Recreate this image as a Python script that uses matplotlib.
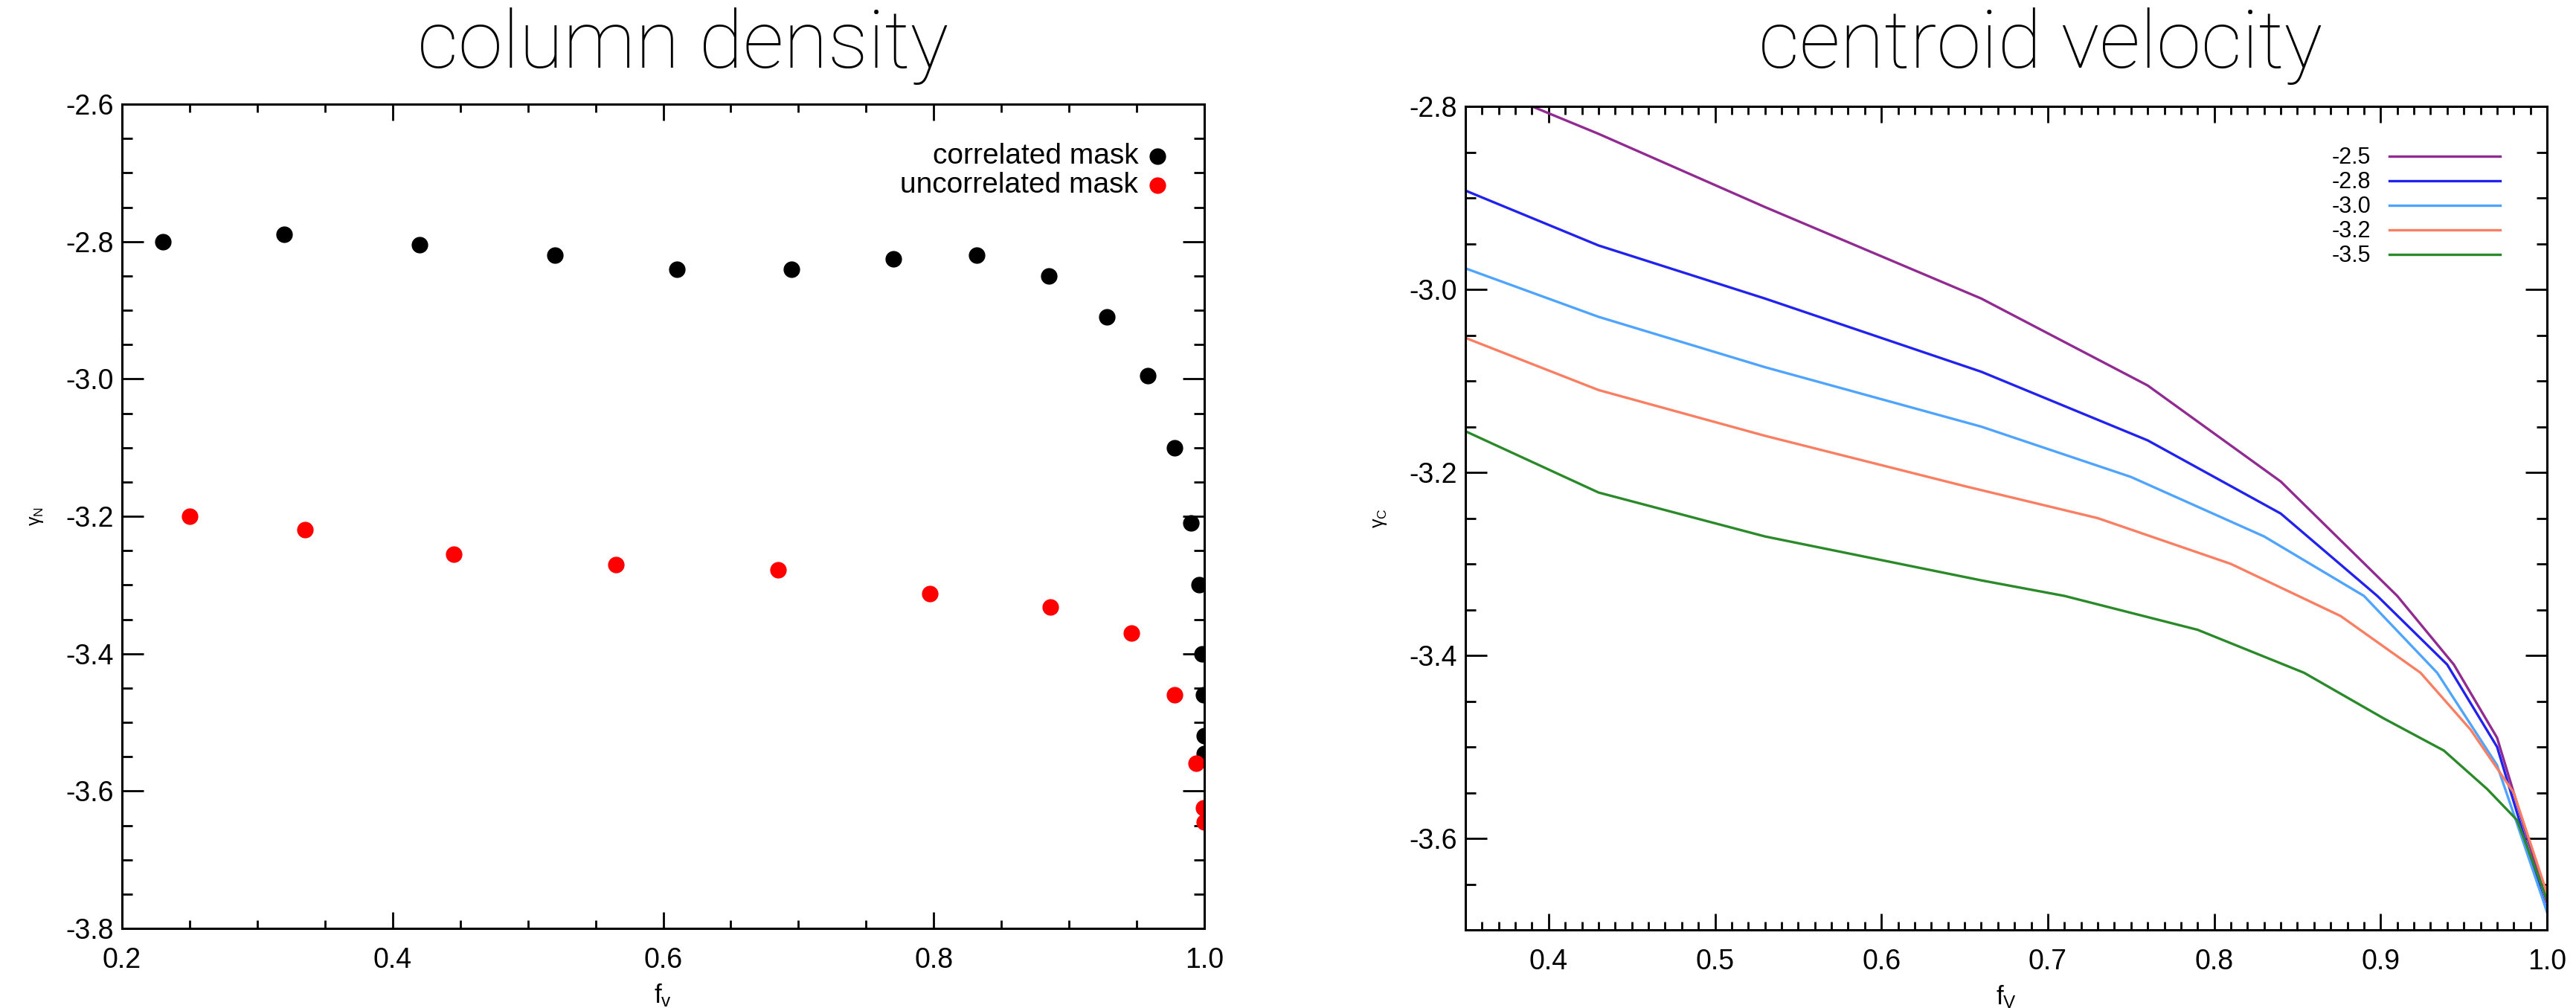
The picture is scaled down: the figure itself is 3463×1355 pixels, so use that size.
import matplotlib.pyplot as plt
from matplotlib.ticker import MultipleLocator, FormatStrFormatter

plt.rcParams['axes.unicode_minus'] = False
plt.rcParams['font.family'] = ['Liberation Sans', 'DejaVu Sans']
plt.rcParams['mathtext.fontset'] = 'custom'
plt.rcParams['mathtext.rm'] = 'Liberation Sans'
plt.rcParams['mathtext.it'] = 'Liberation Sans'

# left panel: column density
fv_corr = [0.23, 0.32, 0.42, 0.52, 0.61, 0.695, 0.77, 0.832, 0.885, 0.928,
           0.958, 0.978, 0.99, 0.996, 0.9985, 0.9995, 1.0, 1.0]
gN_corr = [-2.80, -2.79, -2.805, -2.82, -2.84, -2.84, -2.825, -2.82, -2.85, -2.91,
           -2.995, -3.10, -3.21, -3.30, -3.40, -3.46, -3.52, -3.545]
fv_unc = [0.25, 0.335, 0.445, 0.565, 0.685, 0.797, 0.886, 0.946, 0.978, 0.994, 0.9995, 1.0]
gN_unc = [-3.20, -3.22, -3.255, -3.27, -3.278, -3.313, -3.332, -3.37, -3.46, -3.56, -3.625, -3.645]

# right panel: centroid velocity, one curve per spectral index
slopes = ['-2.5', '-2.8', '-3.0', '-3.2', '-3.5']
colors = ['#912a91', '#2222ee', '#4ea4ff', '#fa7f62', '#2a8a2a']
fv_c = [
    [0.35, 0.43, 0.53, 0.66, 0.76, 0.84, 0.91, 0.944, 0.97, 1.0],
    [0.35, 0.43, 0.53, 0.66, 0.76, 0.84, 0.898, 0.94, 0.97, 1.0],
    [0.35, 0.43, 0.53, 0.66, 0.75, 0.83, 0.89, 0.934, 0.97, 1.0],
    [0.35, 0.43, 0.53, 0.65, 0.73, 0.81, 0.876, 0.924, 0.954, 0.98, 1.0],
    [0.35, 0.43, 0.53, 0.66, 0.71, 0.79, 0.854, 0.902, 0.938, 0.964, 0.982, 1.0],
]
gC = [
    [-2.77, -2.83, -2.91, -3.01, -3.105, -3.21, -3.335, -3.41, -3.49, -3.67],
    [-2.892, -2.952, -3.01, -3.09, -3.165, -3.245, -3.335, -3.41, -3.50, -3.68],
    [-2.977, -3.03, -3.085, -3.15, -3.205, -3.27, -3.335, -3.419, -3.52, -3.68],
    [-3.053, -3.11, -3.16, -3.215, -3.25, -3.30, -3.357, -3.419, -3.481, -3.55, -3.66],
    [-3.155, -3.222, -3.27, -3.318, -3.335, -3.372, -3.419, -3.469, -3.504, -3.546, -3.58, -3.667],
]

fig = plt.figure(figsize=(34.63, 13.55), dpi=100)
W, H = 3463, 1355
ax1 = fig.add_axes([164 / W, 1 - 1248 / H, (1619 - 164) / W, (1248 - 140) / H])
ax2 = fig.add_axes([1970 / W, 1 - 1250 / H, (3424 - 1970) / W, (1250 - 143) / H])


def style(ax):
    for s in ax.spines.values():
        s.set_linewidth(2.2)
    ax.tick_params(which='both', direction='in', top=True, right=True,
                   width=2, labelsize=27, colors='black')
    ax.tick_params(axis='x', which='major', length=16, pad=18)
    ax.tick_params(axis='x', which='minor', length=8)
    ax.tick_params(axis='y', which='major', length=21, pad=8)
    ax.tick_params(axis='y', which='minor', length=10)
    ax.yaxis.set_major_formatter(FormatStrFormatter('%.1f'))
    ax.xaxis.set_major_formatter(FormatStrFormatter('%.1f'))


ax1.plot(fv_corr, gN_corr, 'o', color='black', markersize=15, linestyle='none')
ax1.plot(fv_unc, gN_unc, 'o', color='red', markersize=15, linestyle='none')
ax1.set_xlim(0.2, 1.0)
ax1.set_ylim(-3.8, -2.6)
ax1.xaxis.set_major_locator(MultipleLocator(0.2))
ax1.xaxis.set_minor_locator(MultipleLocator(0.05))
ax1.yaxis.set_major_locator(MultipleLocator(0.2))
ax1.yaxis.set_minor_locator(MultipleLocator(0.05))
style(ax1)
ax1.set_xlabel(r'f$_\mathregular{v}$', fontsize=25, labelpad=8)
ax1.set_ylabel(r'$\gamma_\mathregular{N}$', fontsize=18, labelpad=20)

# legend with right-aligned labels
for i, (lab, c) in enumerate([('correlated mask', 'black'), ('uncorrelated mask', 'red')]):
    yy = 0.937 - i * 0.035
    ax1.text(0.939, yy, lab, transform=ax1.transAxes, ha='right', va='center', fontsize=28)
    ax1.plot([0.957], [yy], 'o', color=c, markersize=15, transform=ax1.transAxes, clip_on=False)

for f, g, c, lab in zip(fv_c, gC, colors, slopes):
    ax2.plot(f, g, color=c, linewidth=2.4, label=lab)
ax2.set_xlim(0.35, 1.0)
ax2.set_ylim(-3.7, -2.8)
ax2.xaxis.set_major_locator(MultipleLocator(0.1))
ax2.xaxis.set_minor_locator(MultipleLocator(0.01))
ax2.yaxis.set_major_locator(MultipleLocator(0.2))
ax2.yaxis.set_minor_locator(MultipleLocator(0.05))
style(ax2)
ax2.set_xlabel(r'f$_\mathregular{V}$', fontsize=25, labelpad=8)
ax2.set_ylabel(r'$\gamma_\mathregular{C}$', fontsize=18, labelpad=20)
ax2.legend(loc='upper right', bbox_to_anchor=(0.957, 0.951), frameon=False,
           markerfirst=False, fontsize=22, handlelength=4.9, handletextpad=0.8,
           labelspacing=0.1, borderpad=0, borderaxespad=0)

fig.text(0.265, 0.954, 'column density', ha='center', va='center', fontsize=78,
         family=['Roboto', 'DejaVu Sans'], fontweight='light')
fig.text(0.792, 0.954, 'centroid velocity', ha='center', va='center', fontsize=78,
         family=['Roboto', 'DejaVu Sans'], fontweight='light')

fig.savefig('out.png', dpi=100)
